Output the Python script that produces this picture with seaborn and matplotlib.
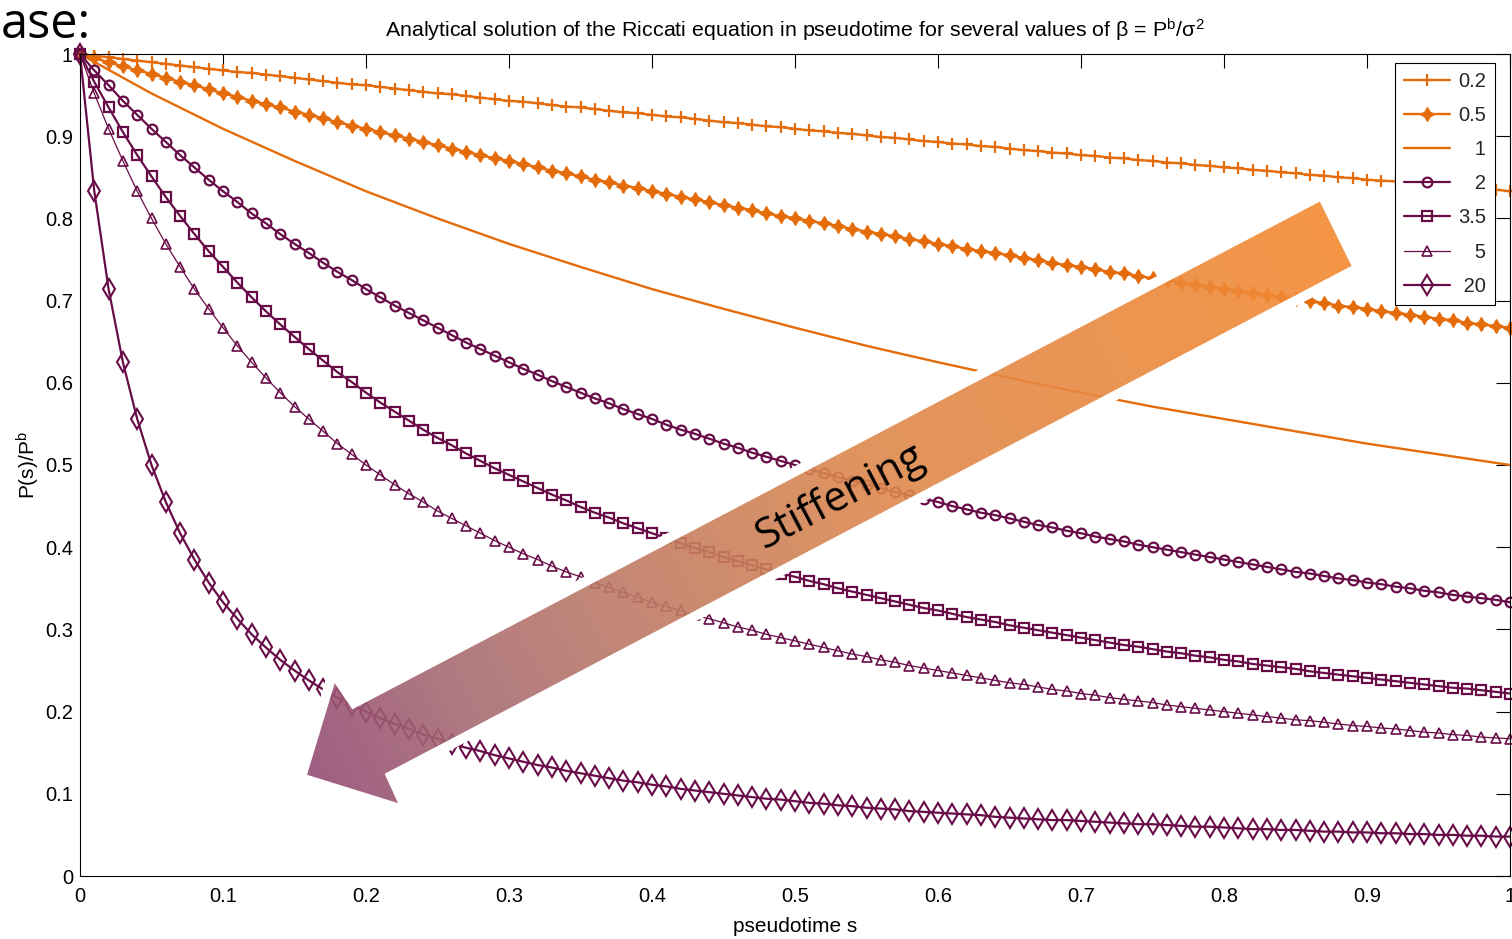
import numpy as np
import matplotlib
matplotlib.use("Agg")
import matplotlib.pyplot as plt
import seaborn as sns
from matplotlib.patches import Polygon
from matplotlib.colors import LinearSegmentedColormap

# ---------------- data ----------------
s = [0.00, 0.01, 0.02, 0.03, 0.04, 0.05, 0.06, 0.07, 0.08, 0.09,
     0.10, 0.11, 0.12, 0.13, 0.14, 0.15, 0.16, 0.17, 0.18, 0.19,
     0.20, 0.21, 0.22, 0.23, 0.24, 0.25, 0.26, 0.27, 0.28, 0.29,
     0.30, 0.31, 0.32, 0.33, 0.34, 0.35, 0.36, 0.37, 0.38, 0.39,
     0.40, 0.41, 0.42, 0.43, 0.44, 0.45, 0.46, 0.47, 0.48, 0.49,
     0.50, 0.51, 0.52, 0.53, 0.54, 0.55, 0.56, 0.57, 0.58, 0.59,
     0.60, 0.61, 0.62, 0.63, 0.64, 0.65, 0.66, 0.67, 0.68, 0.69,
     0.70, 0.71, 0.72, 0.73, 0.74, 0.75, 0.76, 0.77, 0.78, 0.79,
     0.80, 0.81, 0.82, 0.83, 0.84, 0.85, 0.86, 0.87, 0.88, 0.89,
     0.90, 0.91, 0.92, 0.93, 0.94, 0.95, 0.96, 0.97, 0.98, 0.99,
     1.00]

s_coarse = [0.00, 0.05, 0.10, 0.15, 0.20, 0.25, 0.30, 0.35, 0.40, 0.45,
            0.50, 0.55, 0.60, 0.65, 0.70, 0.75, 0.80, 0.85, 0.90, 0.95,
            1.00]

p_beta_0_2 = [1.000, 0.998, 0.996, 0.994, 0.992, 0.990, 0.988, 0.986, 0.984, 0.982,
              0.980, 0.978, 0.977, 0.975, 0.973, 0.971, 0.969, 0.967, 0.965, 0.963,
              0.962, 0.960, 0.958, 0.956, 0.954, 0.952, 0.951, 0.949, 0.947, 0.945,
              0.943, 0.942, 0.940, 0.938, 0.936, 0.935, 0.933, 0.931, 0.929, 0.928,
              0.926, 0.924, 0.923, 0.921, 0.919, 0.917, 0.916, 0.914, 0.912, 0.911,
              0.909, 0.907, 0.906, 0.904, 0.903, 0.901, 0.899, 0.898, 0.896, 0.894,
              0.893, 0.891, 0.890, 0.888, 0.887, 0.885, 0.883, 0.882, 0.880, 0.879,
              0.877, 0.876, 0.874, 0.873, 0.871, 0.870, 0.868, 0.867, 0.865, 0.864,
              0.862, 0.861, 0.859, 0.858, 0.856, 0.855, 0.853, 0.852, 0.850, 0.849,
              0.847, 0.846, 0.845, 0.843, 0.842, 0.840, 0.839, 0.838, 0.836, 0.835,
              0.833]

p_beta_0_5 = [1.000, 0.995, 0.990, 0.985, 0.980, 0.976, 0.971, 0.966, 0.962, 0.957,
              0.952, 0.948, 0.943, 0.939, 0.935, 0.930, 0.926, 0.922, 0.917, 0.913,
              0.909, 0.905, 0.901, 0.897, 0.893, 0.889, 0.885, 0.881, 0.877, 0.873,
              0.870, 0.866, 0.862, 0.858, 0.855, 0.851, 0.847, 0.844, 0.840, 0.837,
              0.833, 0.830, 0.826, 0.823, 0.820, 0.816, 0.813, 0.810, 0.806, 0.803,
              0.800, 0.797, 0.794, 0.791, 0.787, 0.784, 0.781, 0.778, 0.775, 0.772,
              0.769, 0.766, 0.763, 0.760, 0.758, 0.755, 0.752, 0.749, 0.746, 0.743,
              0.741, 0.738, 0.735, 0.733, 0.730, 0.727, 0.725, 0.722, 0.719, 0.717,
              0.714, 0.712, 0.709, 0.707, 0.704, 0.702, 0.699, 0.697, 0.694, 0.692,
              0.690, 0.687, 0.685, 0.683, 0.680, 0.678, 0.676, 0.673, 0.671, 0.669,
              0.667]

p_beta_1 = [1.000, 0.952, 0.909, 0.870, 0.833, 0.800, 0.769, 0.741, 0.714, 0.690,
            0.667, 0.645, 0.625, 0.606, 0.588, 0.571, 0.556, 0.541, 0.526, 0.513,
            0.500]

p_beta_2 = [1.000, 0.980, 0.962, 0.943, 0.926, 0.909, 0.893, 0.877, 0.862, 0.847,
            0.833, 0.820, 0.806, 0.794, 0.781, 0.769, 0.758, 0.746, 0.735, 0.725,
            0.714, 0.704, 0.694, 0.685, 0.676, 0.667, 0.658, 0.649, 0.641, 0.633,
            0.625, 0.617, 0.610, 0.602, 0.595, 0.588, 0.581, 0.575, 0.568, 0.562,
            0.556, 0.549, 0.543, 0.538, 0.532, 0.526, 0.521, 0.515, 0.510, 0.505,
            0.500, 0.495, 0.490, 0.485, 0.481, 0.476, 0.472, 0.467, 0.463, 0.459,
            0.455, 0.450, 0.446, 0.442, 0.439, 0.435, 0.431, 0.427, 0.424, 0.420,
            0.417, 0.413, 0.410, 0.407, 0.403, 0.400, 0.397, 0.394, 0.391, 0.388,
            0.385, 0.382, 0.379, 0.376, 0.373, 0.370, 0.368, 0.365, 0.362, 0.360,
            0.357, 0.355, 0.352, 0.350, 0.347, 0.345, 0.342, 0.340, 0.338, 0.336,
            0.333]

p_beta_3_5 = [1.000, 0.966, 0.935, 0.905, 0.877, 0.851, 0.826, 0.803, 0.781, 0.760,
              0.741, 0.722, 0.704, 0.687, 0.671, 0.656, 0.641, 0.627, 0.613, 0.601,
              0.588, 0.576, 0.565, 0.554, 0.543, 0.533, 0.524, 0.514, 0.505, 0.496,
              0.488, 0.480, 0.472, 0.464, 0.457, 0.449, 0.442, 0.436, 0.429, 0.423,
              0.417, 0.411, 0.405, 0.399, 0.394, 0.388, 0.383, 0.378, 0.373, 0.368,
              0.364, 0.359, 0.355, 0.350, 0.346, 0.342, 0.338, 0.334, 0.330, 0.326,
              0.323, 0.319, 0.315, 0.312, 0.309, 0.305, 0.302, 0.299, 0.296, 0.293,
              0.290, 0.287, 0.284, 0.281, 0.279, 0.276, 0.273, 0.271, 0.268, 0.266,
              0.263, 0.261, 0.258, 0.256, 0.254, 0.252, 0.249, 0.247, 0.245, 0.243,
              0.241, 0.239, 0.237, 0.235, 0.233, 0.231, 0.229, 0.228, 0.226, 0.224,
              0.222]

p_beta_5 = [1.000, 0.952, 0.909, 0.870, 0.833, 0.800, 0.769, 0.741, 0.714, 0.690,
            0.667, 0.645, 0.625, 0.606, 0.588, 0.571, 0.556, 0.541, 0.526, 0.513,
            0.500, 0.488, 0.476, 0.465, 0.455, 0.444, 0.435, 0.426, 0.417, 0.408,
            0.400, 0.392, 0.385, 0.377, 0.370, 0.364, 0.357, 0.351, 0.345, 0.339,
            0.333, 0.328, 0.323, 0.317, 0.313, 0.308, 0.303, 0.299, 0.294, 0.290,
            0.286, 0.282, 0.278, 0.274, 0.270, 0.267, 0.263, 0.260, 0.256, 0.253,
            0.250, 0.247, 0.244, 0.241, 0.238, 0.235, 0.233, 0.230, 0.227, 0.225,
            0.222, 0.220, 0.217, 0.215, 0.213, 0.211, 0.208, 0.206, 0.204, 0.202,
            0.200, 0.198, 0.196, 0.194, 0.192, 0.190, 0.189, 0.187, 0.185, 0.183,
            0.182, 0.180, 0.179, 0.177, 0.175, 0.174, 0.172, 0.171, 0.169, 0.168,
            0.167]

p_beta_20 = [1.000, 0.833, 0.714, 0.625, 0.556, 0.500, 0.455, 0.417, 0.385, 0.357,
             0.333, 0.313, 0.294, 0.278, 0.263, 0.250, 0.238, 0.227, 0.217, 0.208,
             0.200, 0.192, 0.185, 0.179, 0.172, 0.167, 0.161, 0.156, 0.152, 0.147,
             0.143, 0.139, 0.135, 0.132, 0.128, 0.125, 0.122, 0.119, 0.116, 0.114,
             0.111, 0.109, 0.106, 0.104, 0.102, 0.100, 0.098, 0.096, 0.094, 0.093,
             0.091, 0.089, 0.088, 0.086, 0.085, 0.083, 0.082, 0.081, 0.079, 0.078,
             0.077, 0.076, 0.075, 0.074, 0.072, 0.071, 0.070, 0.069, 0.068, 0.068,
             0.067, 0.066, 0.065, 0.064, 0.063, 0.063, 0.062, 0.061, 0.060, 0.060,
             0.059, 0.058, 0.057, 0.057, 0.056, 0.056, 0.055, 0.054, 0.054, 0.053,
             0.053, 0.052, 0.052, 0.051, 0.051, 0.050, 0.050, 0.049, 0.049, 0.048,
             0.048]

# legend labels, padded with figure/punctuation spaces to right-align them
beta_labels = ["0.2", "0.5", "\u2007\u20081", "\u2007\u20082", "3.5", "\u2007\u20085", "\u200820"]

tick_values = [0.0, 0.1, 0.2, 0.3, 0.4, 0.5, 0.6, 0.7, 0.8, 0.9, 1.0]
tick_labels = ["0", "0.1", "0.2", "0.3", "0.4", "0.5", "0.6", "0.7", "0.8", "0.9", "1"]

title_text = "Analytical solution of the Riccati equation in pseudotime for several values of β = P$^{\\mathrm{b}}$/σ$^{2}$"
xlabel_text = "pseudotime s"
ylabel_text = "P(s)/P$^{\\mathrm{b}}$"
arrow_text = "Stiffening"
corner_text = "ase:"

# ---------------- style ----------------
ORANGE = "#E46C0A"
PURPLE = "#680C48"

sns.set_style("white")
plt.rcParams["font.family"] = ["Liberation Sans", "DejaVu Sans"]
plt.rcParams["mathtext.fontset"] = "custom"
plt.rcParams["mathtext.rm"] = "Liberation Sans"
plt.rcParams["mathtext.it"] = "Liberation Sans:italic"
plt.rcParams["mathtext.bf"] = "Liberation Sans:bold"

W, H = 1512, 939
fig = plt.figure(figsize=(W / 100, H / 100), dpi=100)
fig.patch.set_facecolor("white")
ax = fig.add_axes([80 / W, 1 - 876 / H, 1430 / W, 822 / H])
ax.set_facecolor("white")

series = [
    (s, p_beta_0_2, ORANGE, dict(marker="+", markersize=8.5, markeredgewidth=1.6), 1.7),
    (s, p_beta_0_5, ORANGE, dict(marker=(4, 1, 0), markersize=10, markeredgewidth=1.0,
                                 markerfacecolor=ORANGE), 1.7),
    (s_coarse, p_beta_1, ORANGE, dict(marker=""), 1.7),
    (s, p_beta_2, PURPLE, dict(marker="o", markersize=7, markeredgewidth=1.6,
                               markerfacecolor="none"), 1.6),
    (s, p_beta_3_5, PURPLE, dict(marker="s", markersize=7.3, markeredgewidth=1.6,
                                 markerfacecolor="none"), 1.6),
    (s, p_beta_5, PURPLE, dict(marker="^", markersize=7.5, markeredgewidth=1.2,
                               markerfacecolor="none"), 0.9),
    (s, p_beta_20, PURPLE, dict(marker="d", markersize=10, markeredgewidth=1.5,
                                markerfacecolor="none"), 1.6),
]

for (xv, yv, col, mk, lw), lab in zip(series, beta_labels):
    sns.lineplot(x=xv, y=yv, ax=ax, color=col, linewidth=lw, label=lab,
                 markeredgecolor=col, clip_on=False, **mk)

ax.set_xlim(0, 1)
ax.set_ylim(0, 1)
ax.set_xticks(tick_values)
ax.set_xticklabels(tick_labels)
ax.set_yticks(tick_values)
ax.set_yticklabels(tick_labels)
ax.tick_params(direction="in", length=10, width=0.8, top=True, right=True,
               labelsize=14.5, colors="black", pad=5)
ax.tick_params(axis="x", pad=8)
for sp in ax.spines.values():
    sp.set_color("black")
    sp.set_linewidth(0.8)
    sp.set_visible(True)
ax.grid(False)

ax.set_xlabel(xlabel_text, fontsize=15, labelpad=8, color="black")
ax.set_ylabel(ylabel_text, fontsize=15, labelpad=2, color="black")
ax.set_title(title_text, fontsize=15.4, pad=12, color="black")

leg = ax.legend(loc="upper right", bbox_to_anchor=((1495 - 80) / 1430, (876 - 63) / 822),
                borderaxespad=0, frameon=True, fancybox=False, edgecolor="black",
                framealpha=1, fontsize=14.5, handlelength=2.3, labelspacing=0.75,
                handletextpad=0.4, borderpad=0.45, numpoints=1)
leg.get_frame().set_linewidth(0.8)
leg.set_zorder(5)

# ---------------- overlay: stiffening arrow & slide text ----------------
ov = fig.add_axes([0, 0, 1, 1], zorder=10)
ov.set_xlim(0, W)
ov.set_ylim(H, 0)
ov.axis("off")
ov.patch.set_alpha(0)

arrow_px = [(1322, 195), (1358, 268), (391, 776), (407, 811), (301, 778), (333, 672), (354, 703)]
halo = Polygon(arrow_px, closed=True, facecolor="none", edgecolor="white", linewidth=7,
               joinstyle="miter")
ov.add_patch(halo)
clip_poly = Polygon(arrow_px, closed=True, facecolor="none", edgecolor="none")
ov.add_patch(clip_poly)

cmap = LinearSegmentedColormap.from_list(
    "stiff", [(0.0, "#F48A31"), (0.45, "#DE884D"), (0.7, "#BC7A68"),
              (0.85, "#A76B73"), (1.0, "#934A75")])
x0, x1, y0, y1 = 290, 1370, 185, 820
gx, gy = np.meshgrid(np.arange(x0, x1), np.arange(y0, y1))
tail = np.array([1340.0, 231.0])
tip = np.array([301.0, 778.0])
dvec = tip - tail
tval = ((gx - tail[0]) * dvec[0] + (gy - tail[1]) * dvec[1]) / (dvec @ dvec)
img = ov.imshow(np.clip(tval, 0, 1), cmap=cmap, vmin=0, vmax=1,
                extent=(x0, x1, y1, y0), origin="upper", alpha=0.9,
                interpolation="bilinear", aspect="auto")
img.set_clip_path(clip_poly)
ov.set_xlim(0, W)
ov.set_ylim(H, 0)

ov.text(841, 497, arrow_text, rotation=27.7, rotation_mode="anchor", ha="center",
        va="center", fontsize=30, family=["Open Sans", "DejaVu Sans"], color="black")

fig.text(0.5 / W, 1 - 38 / H, corner_text, ha="left", va="baseline", fontsize=35,
         family=["Open Sans", "DejaVu Sans"], color="black")

fig.savefig("out.png", dpi=100, facecolor="white")
